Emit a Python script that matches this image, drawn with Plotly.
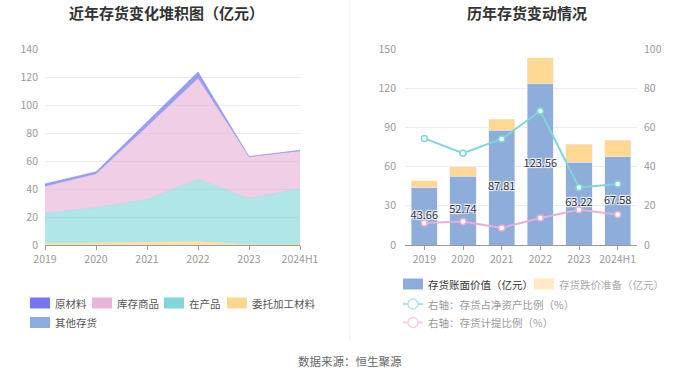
import plotly.graph_objects as go

years = ["2019", "2020", "2021", "2022", "2023", "2024H1"]

# left stacked area (亿元)
weituo = [1.0, 1.5, 1.5, 2.5, 0.3, 0.3]          # 委托加工材料
zaichan = [21.6, 25.1, 31.1, 44.5, 33.0, 39.9]   # 在产品
kucun = [19.1, 24.1, 51.9, 72.0, 29.7, 26.9]     # 库存商品
yuancailiao = [1.9, 1.5, 3.3, 4.5, 0.2, 0.5]     # 原材料
qita = [0.06, 0.04, 0.01, 0.06, 0.02, 0.0]       # 其他存货

# right chart
book_value = [43.66, 52.74, 87.81, 123.56, 63.22, 67.58]   # 存货账面价值
provision = [5.5, 7.2, 8.4, 19.8, 13.9, 12.5]              # 存货跌价准备
ratio_net_assets = [54.4, 46.8, 54.1, 68.4, 29.4, 31.1]    # 存货占净资产比例 %
ratio_provision = [11.2, 12.0, 8.7, 13.8, 18.0, 15.6]      # 存货计提比例 %

FONT = "Noto Sans CJK SC, Noto Sans, sans-serif"
W, H = 700, 378
OFF = 0


def px(x):
    return (x - OFF) / W


def py(y):
    return 1 - (y - OFF) / H


fig = go.Figure()

area_specs = [
    ("委托加工材料", weituo, "rgba(255,217,140,0.75)"),
    ("在产品", zaichan, "rgba(127,214,216,0.62)"),
    ("库存商品", kucun, "rgba(230,176,214,0.62)"),
    ("原材料", yuancailiao, "rgba(120,124,240,0.75)"),
    ("其他存货", qita, "rgba(138,173,219,0.75)"),
]
for name, vals, col in area_specs:
    fig.add_trace(go.Scatter(
        x=years, y=vals, name=name, stackgroup="one", mode="lines",
        line=dict(width=0.5, color=col), fillcolor=col,
        xaxis="x", yaxis="y", showlegend=False, hoverinfo="skip"))

fig.add_trace(go.Bar(x=years, y=book_value, marker_color="#8eadda", width=0.68,
                     xaxis="x2", yaxis="y3", showlegend=False, name="存货账面价值"))
fig.add_trace(go.Bar(x=years, y=provision, marker_color="#ffd993", width=0.68,
                     xaxis="x2", yaxis="y3", showlegend=False, name="存货跌价准备"))
fig.add_trace(go.Scatter(x=years, y=ratio_net_assets, mode="lines+markers",
                         line=dict(color="#7fd6d8", width=2),
                         marker=dict(size=6, color="white", line=dict(color="#7fd6d8", width=1.5)),
                         xaxis="x2", yaxis="y4", showlegend=False))
fig.add_trace(go.Scatter(x=years, y=ratio_provision, mode="lines+markers",
                         line=dict(color="#e3b1d5", width=2),
                         marker=dict(size=6, color="white", line=dict(color="#e3b1d5", width=1.5)),
                         xaxis="x2", yaxis="y4", showlegend=False))
fig.add_trace(go.Scatter(x=years, y=[v / 2 for v in book_value], mode="text",
                         text=[f"{v:.2f}" for v in book_value],
                         textfont=dict(size=11, color="#333333", family=FONT,
                                       shadow="1px 1px 1px #fff, -1px -1px 1px #fff, 1px -1px 1px #fff, -1px 1px 1px #fff"),
                         xaxis="x2", yaxis="y3", showlegend=False, hoverinfo="skip"))

tick_font = dict(size=10.5, color="#999999", family=FONT)
grid = "#e8ebf5"
yd = [py(245), py(49)]

fig.update_layout(
    width=W, height=H, margin=dict(l=0, r=0, t=0, b=0),
    paper_bgcolor="white", plot_bgcolor="white",
    font=dict(family=FONT),
    barmode="stack",
    xaxis=dict(domain=[px(45), px(300)], type="category", range=[0, 5],
               showgrid=False, showline=True, linecolor="#999999",
               ticks="outside", ticklen=4, tickcolor="#999999",
               tickfont=tick_font, anchor="y", automargin=False),
    yaxis=dict(domain=yd, range=[0, 140], dtick=20, showgrid=True, gridcolor=grid,
               zeroline=False, showline=False, tickfont=tick_font, anchor="x",
               ticklabelstandoff=6, automargin=False),
    xaxis2=dict(domain=[px(405), px(637)], type="category", range=[-0.5, 5.5],
                showgrid=False, showline=True, linecolor="#999999",
                ticks="outside", ticklen=4, tickcolor="#999999",
                tickfont=tick_font, anchor="y3", automargin=False),
    yaxis3=dict(domain=yd, range=[0, 150], dtick=30, showgrid=True, gridcolor=grid,
                zeroline=False, showline=False, tickfont=tick_font, anchor="x2",
                ticklabelstandoff=8, automargin=False),
    yaxis4=dict(domain=yd, range=[0, 100], dtick=20, overlaying="y3", side="right",
                showgrid=False, zeroline=False, showline=False, tickfont=tick_font,
                anchor="x2", ticklabelstandoff=6, automargin=False),
)

shapes = []
annots = []

# titles
annots.append(dict(x=px(166), y=py(12), xref="paper", yref="paper", text="<b>近年存货变化堆积图（亿元）</b>",
                   showarrow=False, font=dict(size=15, color="#333333", family=FONT), xanchor="center", yanchor="middle"))
annots.append(dict(x=px(527), y=py(12), xref="paper", yref="paper", text="<b>历年存货变动情况</b>",
                   showarrow=False, font=dict(size=15, color="#333333", family=FONT), xanchor="center", yanchor="middle"))
annots.append(dict(x=px(350), y=py(361), xref="paper", yref="paper", text="数据来源：恒生聚源",
                   showarrow=False, font=dict(size=11.5, color="#666666", family=FONT), xanchor="center", yanchor="middle"))

# divider
shapes.append(dict(type="line", xref="paper", yref="paper", x0=px(350), x1=px(350), y0=1, y1=py(340),
                   line=dict(color="#f0f0f0", width=1)))


def swatch(x0, yc, color, text, tcolor="#555555"):
    shapes.append(dict(type="rect", xref="paper", yref="paper", x0=px(x0), x1=px(x0 + 20),
                       y0=py(yc + 5.5), y1=py(yc - 5.5), fillcolor=color, line=dict(width=0)))
    annots.append(dict(x=px(x0 + 23), y=py(yc), xref="paper", yref="paper", text=text, showarrow=False,
                       xanchor="left", yanchor="middle", font=dict(size=10.5, color=tcolor, family=FONT)))


def line_icon(x0, yc, color, text, tcolor="#999999"):
    shapes.append(dict(type="line", xref="paper", yref="paper", x0=px(x0), x1=px(x0 + 20),
                       y0=py(yc), y1=py(yc), line=dict(color=color, width=2)))
    shapes.append(dict(type="circle", xref="paper", yref="paper", x0=px(x0 + 5), x1=px(x0 + 15),
                       y0=py(yc + 5), y1=py(yc - 5), fillcolor="white", line=dict(color=color, width=1.5)))
    annots.append(dict(x=px(x0 + 23), y=py(yc), xref="paper", yref="paper", text=text, showarrow=False,
                       xanchor="left", yanchor="middle", font=dict(size=10.5, color=tcolor, family=FONT)))


swatch(30, 303, "#7577f0", "原材料")
swatch(92, 303, "#e8b4d8", "库存商品")
swatch(164, 303, "#80d6d9", "在产品")
swatch(227, 303, "#ffd690", "委托加工材料")
swatch(30, 322.5, "#8aaddb", "其他存货")

swatch(403, 284, "#8aaddb", "存货账面价值（亿元）", "#333333")
swatch(534, 284, "#ffe9c6", "存货跌价准备（亿元）", "#aaaaaa")
line_icon(403, 304, "#aee6e7", "右轴：存货占净资产比例（%）")
line_icon(403, 322.5, "#f2cfe6", "右轴：存货计提比例（%）")

fig.update_layout(shapes=shapes, annotations=annots)
fig.write_html("out.html", config={"displayModeBar": False},
               post_script="document.body.style.margin='0';document.body.style.overflow='hidden';")
